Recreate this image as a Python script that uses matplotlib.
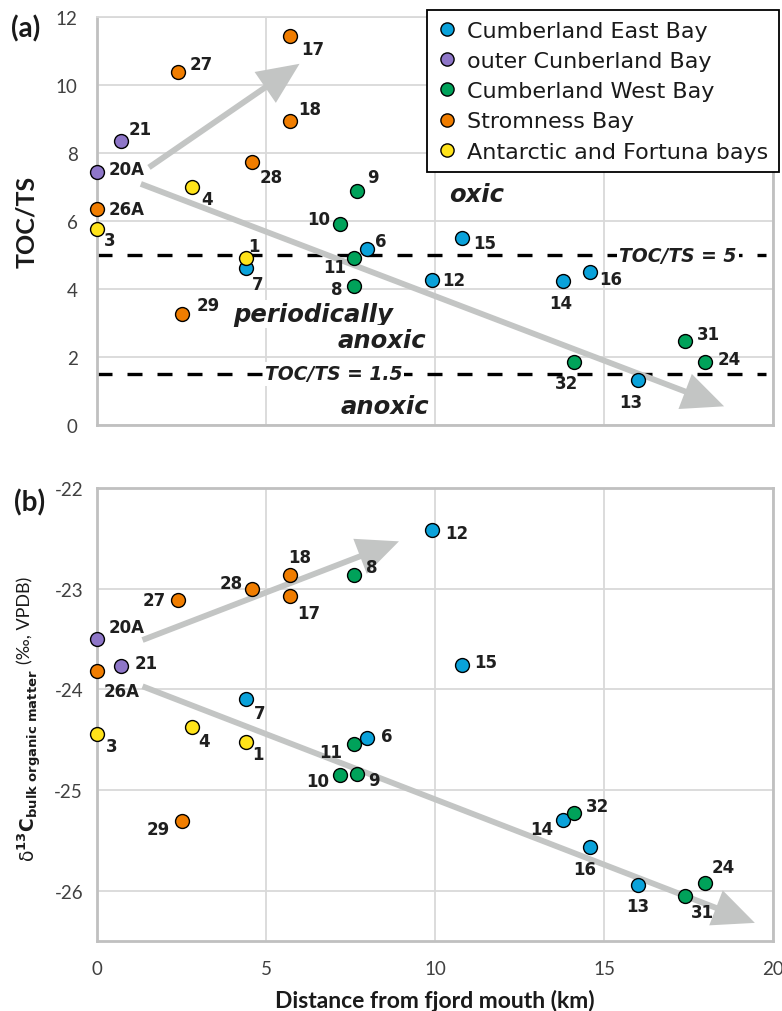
import matplotlib
matplotlib.use('Agg')
import matplotlib.pyplot as plt
from matplotlib.patches import FancyArrowPatch
from matplotlib.lines import Line2D

plt.rcParams['axes.unicode_minus'] = False
plt.rcParams['mathtext.fontset'] = 'dejavusans'

# ---------------- data ----------------
stations = ['1', '3', '4', '6', '7', '8', '9', '10', '11', '12', '13', '14', '15',
            '16', '17', '18', '20A', '21', '24', '26A', '27', '28', '29', '31', '32']
distance = [4.4, 0.0, 2.8, 8.0, 4.4, 7.6, 7.7, 7.2, 7.6, 9.9, 16.0, 13.8, 10.8,
            14.6, 5.7, 5.7, 0.0, 0.7, 18.0, 0.0, 2.4, 4.6, 2.5, 17.4, 14.1]
toc_ts = [4.90, 5.76, 7.01, 5.18, 4.61, 4.10, 6.89, 5.90, 4.90, 4.26, 1.32, 4.23, 5.50,
          4.49, 11.44, 8.93, 7.45, 8.36, 1.86, 6.35, 10.37, 7.74, 3.26, 2.46, 1.84]
d13c = [-24.52, -24.44, -24.37, -24.48, -24.10, -22.86, -24.84, -24.85, -24.54, -22.42,
        -25.94, -25.30, -23.76, -25.57, -23.07, -22.86, -23.50, -23.77, -25.92, -23.82,
        -23.11, -23.00, -25.31, -26.05, -25.23]
region = ['AF', 'AF', 'AF', 'CEB', 'CEB', 'CWB', 'CWB', 'CWB', 'CWB', 'CEB', 'CEB', 'CEB', 'CEB',
          'CEB', 'SB', 'SB', 'OCB', 'OCB', 'CWB', 'SB', 'SB', 'SB', 'SB', 'CWB', 'CWB']

region_order = ['CEB', 'OCB', 'CWB', 'SB', 'AF']
region_names = ['Cumberland East Bay', 'outer Cunberland Bay', 'Cumberland West Bay',
                'Stromness Bay', 'Antarctic and Fortuna bays']
thresholds = [5, 1.5]

# ---------------- styles ----------------
region_colors = {'CEB': '#0AA2DA', 'OCB': '#8E76C8', 'CWB': '#00A25A',
                 'SB': '#F07D00', 'AF': '#FFE31A'}

# label offsets in pixels (dx right, dy down)
offs_a = {'1': (8, -12), '3': (13, 11), '4': (15, 12), '6': (13, -8), '7': (12, 16),
          '8': (-17, 3), '9': (16, -14), '10': (-22, -5), '11': (-19, 9), '12': (22, 0),
          '13': (-7, 22), '14': (-3, 22), '15': (23, 5), '16': (20, 7), '17': (23, 13),
          '18': (20, -12), '20A': (30, -3), '21': (20, -12), '24': (24, -3), '26A': (30, 0),
          '27': (23, -8), '28': (19, 15), '29': (27, -9), '31': (23, -7), '32': (-7, 21)}
offs_b = {'1': (12, 12), '3': (15, 12), '4': (12, 14), '6': (19, -2), '7': (14, 14),
          '8': (18, -8), '9': (17, 6), '10': (-23, 6), '11': (-23, 8), '12': (25, 3),
          '13': (0, 21), '14': (-22, 9), '15': (24, -3), '16': (-6, 22), '17': (19, 17),
          '18': (10, -18), '20A': (30, -12), '21': (26, -3), '24': (18, -16), '26A': (25, 20),
          '27': (-24, 0), '28': (-21, -6), '29': (-23, 8), '31': (17, 16), '32': (24, -7)}

W, H = 782, 1012
fig = plt.figure(figsize=(W / 100, H / 100), dpi=100)

L, R = 97 / W, 773 / W
axa = fig.add_axes([L, 1 - 426 / H, R - L, (426 - 18) / H])
axb = fig.add_axes([L, 1 - 942 / H, R - L, (942 - 489) / H])

tick_font = dict(family='Lato', size=13.5, color='#404040')
lab_font = dict(family='DejaVu Sans', weight='bold', size=12, color='#1f1f1f')
ital_big = dict(family='DejaVu Sans', weight='bold', style='oblique', size=17.5, color='#1f1f1f')
ital_small = dict(family='DejaVu Sans', weight='bold', style='oblique', size=13.5, color='#1f1f1f')


def style_axes(ax):
    ax.set_xlim(0, 20)
    ax.grid(True, color='#D9D9D9', lw=1.3)
    ax.set_axisbelow(True)
    for s in ax.spines.values():
        s.set_color('#C0C0C0')
        s.set_linewidth(2.0)
    ax.tick_params(length=0)
    ax.set_xticks([0, 5, 10, 15, 20])


def scatter_panel(ax, yvals, offs):
    for reg in region_order:
        xs = [d for d, r in zip(distance, region) if r == reg]
        ys = [v for v, r in zip(yvals, region) if r == reg]
        ax.scatter(xs, ys, s=100, c=region_colors[reg], edgecolors='black',
                   linewidths=1.0, zorder=4, clip_on=False)
    for st, d, v in zip(stations, distance, yvals):
        dx, dy = offs[st]
        ax.annotate(st, (d, v), xytext=(dx * 0.72, -dy * 0.72), textcoords='offset points',
                    ha='center', va='center', zorder=5, **lab_font)


def arrow(ax, start, end):
    p = FancyArrowPatch(start, end,
                        arrowstyle='simple,head_width=2.7,head_length=3.0,tail_width=0.42',
                        mutation_scale=10, color='#C3C5C4', lw=0, zorder=3)
    ax.add_patch(p)


# ---------------- panel a ----------------
style_axes(axa)
axa.set_ylim(0, 12)
axa.set_yticks(range(0, 13, 2))
axa.set_xticklabels([])
axa.set_yticklabels([str(v) for v in range(0, 13, 2)], **tick_font)
axa.tick_params(axis='y', pad=14)
axa.spines['top'].set_color('#D9D9D9')
axa.spines['top'].set_linewidth(1.3)

axa.hlines(thresholds, 0, 19.8, colors='black', lw=2.4, linestyles=(0, (4.5, 4.5)), zorder=2)
arrow(axa, (1.47, 7.53), (6.06, 10.67))
arrow(axa, (1.22, 7.12), (18.63, 0.52))
scatter_panel(axa, toc_ts, offs_a)

bb = dict(facecolor='white', edgecolor='none', pad=1.5)
axa.text(17.19, 5, 'TOC/TS = 5', ha='center', va='center', bbox=bb, zorder=3, **ital_small)
axa.text(7.0, 1.5, 'TOC/TS = 1.5', ha='center', va='center', bbox=bb, zorder=3, **ital_small)
axa.text(11.23, 6.79, 'oxic', ha='center', va='center', bbox=bb, zorder=3, **ital_big)
axa.text(6.41, 3.26, 'periodically', ha='center', va='center', bbox=bb, zorder=3, **ital_big)
axa.text(8.43, 2.51, 'anoxic', ha='center', va='center', bbox=bb, zorder=3, **ital_big)
axa.text(8.52, 0.57, 'anoxic', ha='center', va='center', bbox=bb, zorder=3, **ital_big)

fig.text(27 / W, 1 - 222 / H, 'TOC/TS', rotation=90, ha='center', va='center',
         family='Lato', weight='bold', size=18, color='#1a1a1a')

# ---------------- panel b ----------------
style_axes(axb)
axb.set_ylim(-26.5, -22)
axb.set_yticks([-22, -23, -24, -25, -26])
axb.set_yticklabels(['-22', '-23', '-24', '-25', '-26'], **tick_font)
axb.set_xticklabels(['0', '5', '10', '15', '20'], **tick_font)
axb.tick_params(axis='y', pad=10)
axb.tick_params(axis='x', pad=14)

arrow(axb, (1.27, -23.52), (9.01, -22.52))
arrow(axb, (1.27, -23.96), (19.54, -26.33))
scatter_panel(axb, d13c, offs_b)

axb.set_xlabel('Distance from fjord mouth (km)', family='Lato', weight='bold', size=16.5,
               color='#1a1a1a', labelpad=8)

fig.text(30 / W, 1 - 862 / H,
         'δ' + r'$^{\mathbf{13}}\mathbf{C}_{\mathbf{bulk\ organic\ matter}}$',
         rotation=90, ha='center', va='bottom', size=13.5, color='#1a1a1a')
fig.text(25 / W, 1 - 664 / H, '(‰, VPDB)', rotation=90, ha='center', va='bottom',
         family=['Lato', 'DejaVu Sans'], size=13, color='#1a1a1a')

# panel letters
fig.text(26 / W, 1 - 29 / H, '(a)', ha='center', va='center', family='Lato', weight='bold',
         size=20, color='#1a1a1a')
fig.text(30 / W, 1 - 503 / H, '(b)', ha='center', va='center', family='Lato', weight='bold',
         size=20, color='#1a1a1a')

# ---------------- legend ----------------
handles = [Line2D([], [], ls='none', marker='o', markersize=9.5, markerfacecolor=region_colors[r],
                  markeredgecolor='black', markeredgewidth=1.0) for r in region_order]
leg = fig.legend(handles, region_names, loc='upper right', bbox_to_anchor=(779 / W, 1 - 11 / H),
                 borderaxespad=0, frameon=True, fancybox=False, framealpha=1, edgecolor='black',
                 prop=dict(family='DejaVu Sans', size=16), borderpad=0.48, labelspacing=0.46,
                 handlelength=0.81, handletextpad=0.5)
leg.get_frame().set_linewidth(1.3)
for t in leg.get_texts():
    t.set_color('#1a1a1a')

fig.savefig('out.png', dpi=100)
